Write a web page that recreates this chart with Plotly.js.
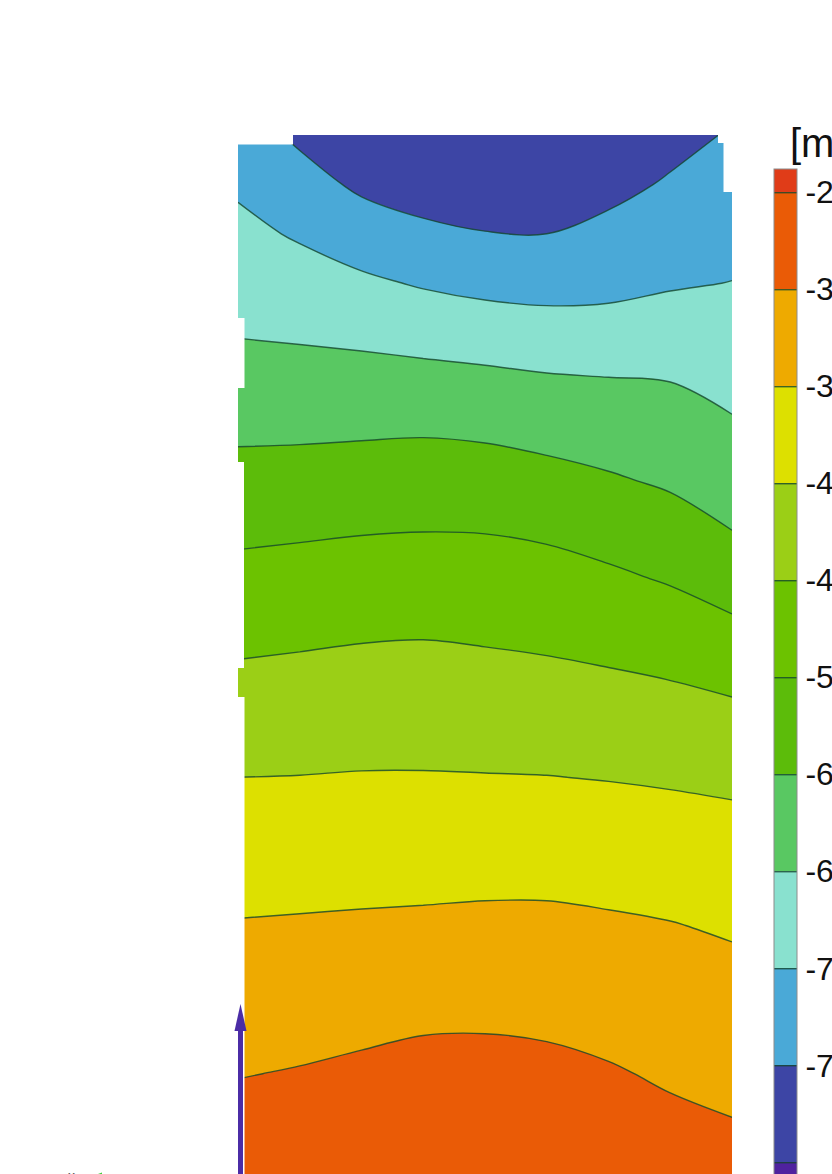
<!DOCTYPE html>
<html><head><meta charset="utf-8">
<script src="https://cdn.plot.ly/plotly-3.0.1.min.js"></script>
<style>html,body{margin:0;padding:0;background:#fff}#chart{width:832px;height:1174px}</style>
</head><body><div id="chart"></div>
<script>
// Specimen grid positions (arbitrary length units, y measured downward from top edge)
const xPos = [0, 12.5, 25, 37.5, 50, 62.5, 75, 87.5, 100];
const yPos = [0,10,20,30,40,50,60,70,80,90,100,110,120,130,140,150,160,170,180,190,200,210,220];

// Displacement values [mm] along each vertical profile (top -> bottom)
const col0 = [-7.55,-7.28,-7.06,-6.84,-6.63,-6.37,-6.09,-5.80,-5.51,-5.23,-4.96,-4.70,-4.45,-4.20,-3.99,-3.78,-3.57,-3.39,-3.21,-3.02,-2.83,-2.63,-2.45];
const col1 = [-7.90,-7.58,-7.26,-6.96,-6.67,-6.38,-6.08,-5.78,-5.47,-5.19,-4.92,-4.66,-4.43,-4.19,-3.98,-3.76,-3.55,-3.36,-3.16,-2.97,-2.76,-2.56,-2.44];
const col2 = [-8.10,-7.90,-7.50,-7.10,-6.73,-6.38,-6.06,-5.74,-5.43,-5.15,-4.87,-4.63,-4.40,-4.17,-3.96,-3.74,-3.53,-3.32,-3.11,-2.90,-2.69,-2.49,-2.42];
const col3 = [-8.30,-8.08,-7.67,-7.25,-6.81,-6.41,-6.04,-5.72,-5.41,-5.13,-4.85,-4.62,-4.39,-4.17,-3.95,-3.73,-3.51,-3.28,-3.05,-2.83,-2.64,-2.47,-2.42];
const col4 = [-8.36,-8.15,-7.78,-7.36,-6.89,-6.45,-6.08,-5.74,-5.42,-5.15,-4.89,-4.64,-4.41,-4.18,-3.94,-3.71,-3.49,-3.26,-3.04,-2.83,-2.64,-2.47,-2.42];
const col5 = [-8.30,-8.12,-7.80,-7.40,-6.96,-6.52,-6.17,-5.82,-5.48,-5.20,-4.94,-4.68,-4.44,-4.19,-3.95,-3.71,-3.49,-3.28,-3.07,-2.87,-2.67,-2.50,-2.43];
const col6 = [-8.20,-7.96,-7.65,-7.35,-6.98,-6.56,-6.25,-5.94,-5.61,-5.30,-5.01,-4.74,-4.48,-4.22,-3.98,-3.75,-3.53,-3.34,-3.15,-2.95,-2.77,-2.58,-2.45];
const col7 = [-7.98,-7.74,-7.50,-7.25,-6.93,-6.60,-6.34,-6.07,-5.77,-5.44,-5.12,-4.81,-4.53,-4.26,-4.02,-3.80,-3.58,-3.41,-3.24,-3.07,-2.89,-2.70,-2.55];
const col8 = [-7.75,-7.56,-7.38,-7.19,-6.97,-6.75,-6.52,-6.26,-6.00,-5.65,-5.29,-4.92,-4.60,-4.31,-4.07,-3.87,-3.66,-3.48,-3.31,-3.15,-2.98,-2.80,-2.65];

// Contour levels / colour bar labels
const levelStart = -8.4, levelEnd = -1.8, levelStep = 0.6;
const cbTickVals = [-8.4,-7.8,-7.2,-6.6,-6.0,-5.4,-4.8,-4.2,-3.6,-3.0,-2.4];
const cbTickText = ['-8.4','-7.8','-7.2','-6.6','-6.0','-5.4','-4.8','-4.2','-3.6','-3.0','-2.4'];
const bandColors = ['#4f229f','#3d45a5','#4aa9d7','#89e1cf','#59c862','#5cbc0a','#6cc200','#9bcf16','#dde000','#eeaa00','#ea5b06','#e03c18'];
const bandStops  = [0, 0.05, 0.15, 0.25, 0.35, 0.45, 0.55, 0.65, 0.75, 0.85, 0.95, 1];

const cols = [col0,col1,col2,col3,col4,col5,col6,col7,col8];
const z = yPos.map((_, r) => cols.map(c => c[r]));
const colorscale = bandStops.map((s, i) => [s, bandColors[i]]);

// layout helpers (pixel -> paper)
const L = 238, T = 135, W = 494, H = 1039;
const px = p => (p - L) / W;
const py = p => (T + H - p) / H;

const trace = {
  type: 'contour', x: xPos, y: yPos, z: z,
  zmin: -8.7, zmax: -2.26,
  colorscale: colorscale,
  contours: {start: levelStart, end: levelEnd, size: levelStep, coloring: 'fill', showlines: true},
  line: {color: 'rgba(20,70,45,0.8)', width: 1.4, smoothing: 1},
  hoverinfo: 'skip',
  colorbar: {
    x: px(774), xanchor: 'left', xpad: 0,
    y: py(169), yanchor: 'top', ypad: 0,
    len: 1042, lenmode: 'pixels',
    thickness: 23, thicknessmode: 'pixels',
    outlinewidth: 1, outlinecolor: '#8c8c8c', borderwidth: 0,
    ticks: 'outside', ticklen: 2, tickcolor: 'rgba(0,0,0,0)',
    tickvals: cbTickVals, ticktext: cbTickText,
    tickfont: {family: 'Liberation Sans, Arial, sans-serif', size: 32, color: '#111'}
  }
};

const white = {type: 'rect', xref: 'paper', yref: 'paper', fillcolor: '#fff', line: {width: 0}, layer: 'above'};
const shapes = [
  Object.assign({x0: px(236), x1: px(293), y0: py(133), y1: py(144.5)}, white),
  Object.assign({x0: px(718), x1: px(735), y0: py(133), y1: py(143)}, white),
  Object.assign({x0: px(723.5), x1: px(735), y0: py(143), y1: py(192)}, white),
  Object.assign({x0: px(236), x1: px(244.5), y0: py(318), y1: py(388)}, white),
  Object.assign({x0: px(236), x1: px(244), y0: py(462), y1: py(668)}, white),
  Object.assign({x0: px(236), x1: px(244.5), y0: py(697), y1: py(1180)}, white),
  // coordinate triad: purple (y) arrow
  {type: 'line', xref: 'paper', yref: 'paper', x0: px(240.5), x1: px(240.5), y0: py(1200), y1: py(1026),
   line: {color: '#4b2ca6', width: 5}, layer: 'above'},
  {type: 'path', xref: 'paper', yref: 'paper', layer: 'above', fillcolor: '#4b2ca6', line: {width: 0},
   path: `M ${px(234.5)},${py(1031)} L ${px(246.5)},${py(1031)} L ${px(240.5)},${py(1004)} Z`},
  // green (x) arrow head, mostly below the frame
  {type: 'path', xref: 'paper', yref: 'paper', layer: 'above', fillcolor: '#3fcf3a', line: {width: 0},
   path: `M ${px(82)},${py(1180)} L ${px(102)},${py(1172.5)} L ${px(102)},${py(1188)} Z`}
];

const layout = {
  width: 832, height: 1174,
  margin: {l: L, r: 832 - L - W, t: T, b: 0, pad: 0, autoexpand: false},
  paper_bgcolor: '#fff', plot_bgcolor: '#fff',
  xaxis: {range: [0, 100], visible: false, fixedrange: true},
  yaxis: {range: [210.3, 0], visible: false, fixedrange: true},
  showlegend: false,
  shapes: shapes,
  annotations: [
    {text: '[mm]', xref: 'paper', yref: 'paper', x: px(788), y: py(143), xanchor: 'left', yanchor: 'middle',
     showarrow: false, font: {family: 'Liberation Sans, Arial, sans-serif', size: 40, color: '#111'}},
    {text: 'x', xref: 'paper', yref: 'paper', x: px(71), y: py(1176), xanchor: 'center', yanchor: 'middle',
     showarrow: false, font: {family: 'Liberation Sans, Arial, sans-serif', size: 14, color: '#555'}}
  ]
};

Plotly.newPlot('chart', [trace], layout, {displayModeBar: false, staticPlot: true});
</script></body></html>
